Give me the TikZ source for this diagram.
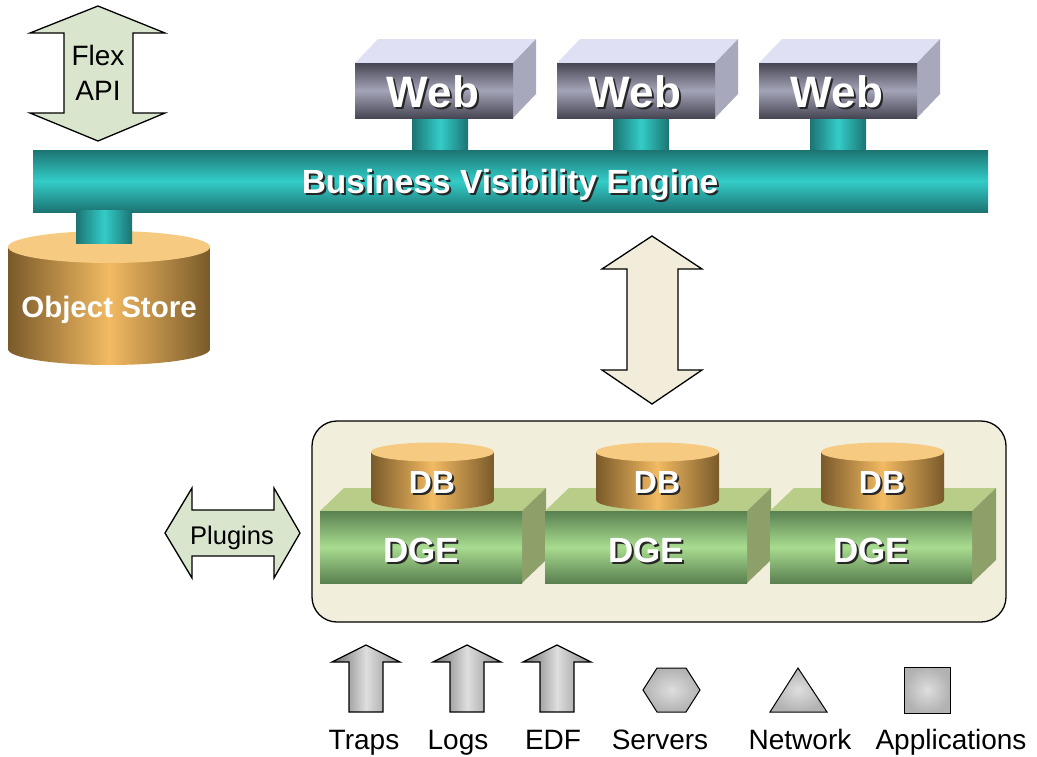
\documentclass[tikz,border=0pt]{standalone}
\usepackage{fontspec}
\setmainfont{Liberation Sans}
\usetikzlibrary{shapes.geometric}
\definecolor{cteal}{HTML}{33CCC8}
\definecolor{cteald}{HTML}{1C7472}
\definecolor{cgold}{HTML}{F2BA62}
\definecolor{cgoldd}{HTML}{7A5A2A}
\definecolor{cgoldt}{HTML}{F6CA80}
\definecolor{cwebf}{HTML}{A4A4B8}
\definecolor{cwebd}{HTML}{464654}
\definecolor{cwebt}{HTML}{E0E0F4}
\definecolor{cwebs}{HTML}{A8A8BC}
\definecolor{cdgef}{HTML}{A8DC90}
\definecolor{cdged}{HTML}{5A8050}
\definecolor{cdget}{HTML}{B8CE88}
\definecolor{cdges}{HTML}{8EA06A}
\definecolor{cmint}{HTML}{D9E5CD}
\definecolor{cbeige}{HTML}{F2EDDA}
\definecolor{cpanel}{HTML}{F2EEDC}
\definecolor{cgreyl}{HTML}{DEDEDE}
\definecolor{cgreym}{HTML}{B2B2B2}
\definecolor{cgreyd}{HTML}{6C6C6C}
\tikzset{
  every picture/.style={x=1pt, y=-1pt, line width=1.3pt},
  blockarrow/.style={draw=black, fill=#1, line join=miter},
  blockarrow/.default=cmint,
  tealbar/.style={top color=cteald, bottom color=cteald, middle color=cteal},
  tealpost/.style={left color=cteald, right color=cteald, middle color=cteal},
  goldside/.style={left color=cgoldd, right color=cgoldd, middle color=cgold},
  webfront/.style={top color=cwebd, bottom color=cwebd, middle color=cwebf},
  dgefront/.style={top color=cdged, bottom color=cdged, middle color=cdgef},
  greyarrow/.style={draw=black, line join=miter, left color=cgreyd, right color=cgreyd!80, middle color=cgreyl},
  greyshape/.style={draw=black, line width=1pt, inner color=cgreyl, outer color=cgreym},
  embossed/.style={anchor=base, text=white, font=\bfseries\fontsize{#1}{#1}\selectfont},
  embshadow/.style={anchor=base, text=black!85, font=\bfseries\fontsize{#1}{#1}\selectfont, xshift=2pt, yshift=-2pt},
  caption/.style={anchor=base, text=black, font=\fontsize{28}{34}\selectfont},
}
\begin{document}
\begin{tikzpicture}
  \useasboundingbox (0,0) rectangle (1037,756);
  % Flex API double arrow
  \draw[blockarrow] (98,6) -- (165,33) -- (133,33) -- (133,113) -- (165,113) -- (98,141)
    -- (30,113) -- (64,113) -- (64,33) -- (30,33) -- cycle;
  \node[caption, anchor=center, align=center, font=\fontsize{28}{35}\selectfont] (flexapi) at (98,73) {Flex\\API};
  % posts under the web servers, then the engine bar
  \foreach \p in {412,613,810}
    \shade[tealpost] (\p,116) rectangle (\p+56,152);
  \shade[tealbar] (33,150) rectangle (988,212);
  \node[embshadow=33.5] at (510,193) {Business Visibility Engine};
  \node[embossed=33.5] (bve) at (510,193) {Business Visibility Engine};
  % web servers
  \foreach \x [count=\i] in {355,557,759} {
    \fill[cwebt] (\x,63) -- (\x+23,39) -- (\x+181,39) -- (\x+158,63) -- cycle;
    \fill[cwebs] (\x+158,63) -- (\x+181,39) -- (\x+181,94) -- (\x+158,118) -- cycle;
    \shade[webfront] (\x,63) rectangle (\x+158,118);
    \node[embshadow=44] at (\x+78,107) {Web};
    \node[embossed=44] (web\i) at (\x+78,107) {Web};
  }
  % object store
  \shade[goldside] (8,247) -- (8,349) arc[start angle=180, end angle=0, x radius=101, y radius=16]
    -- (210,247) -- cycle;
  \fill[cgoldt] (109,247) ellipse[x radius=101, y radius=16];
  \shade[tealpost] (76,210) rectangle (132,243);
  \node[embossed=29.5] (objstore) at (109,317) {Object Store};
  % link between engine and collectors
  \draw[blockarrow=cbeige] (652,236) -- (702,269) -- (678,269) -- (678,370) -- (702,370) -- (652,404)
    -- (602,370) -- (627,370) -- (627,269) -- (602,269) -- cycle;
  % collector panel
  \draw[fill=cpanel, rounded corners=25pt] (312,421) rectangle (1006,622);
  \foreach \x [count=\i] in {320,545,770} {
    \fill[cdget] (\x,511) -- (\x+24,488) -- (\x+226,488) -- (\x+202,511) -- cycle;
    \fill[cdges] (\x+202,511) -- (\x+226,488) -- (\x+226,560) -- (\x+202,583) -- cycle;
    \shade[dgefront] (\x,511) rectangle (\x+202,583);
    \node[embshadow=35] at (\x+101,562) {DGE};
    \node[embossed=35] (dge\i) at (\x+101,562) {DGE};
    % database on top
    \shade[goldside] (\x+51,452) -- (\x+51,500) arc[start angle=180, end angle=0, x radius=61.5, y radius=10]
      -- (\x+174,452) -- cycle;
    \fill[cgoldt] (\x+112.5,452) ellipse[x radius=61.5, y radius=9.5];
    \node[embshadow=32] at (\x+112,493) {DB};
    \node[embossed=32] (db\i) at (\x+112,493) {DB};
  }
  % plugins double arrow
  \draw[blockarrow] (165,533) -- (192,488) -- (192,510) -- (274,510) -- (274,488) -- (300,533)
    -- (274,578) -- (274,556) -- (192,556) -- (192,578) -- cycle;
  \node[caption, font=\fontsize{25.5}{30}\selectfont] (plugins) at (232,544) {Plugins};
  % event sources
  \foreach \c in {366,467,557}
    \shadedraw[greyarrow] (\c,645) -- (\c+34,662) -- (\c+17,662) -- (\c+17,712) -- (\c-17,712)
      -- (\c-17,662) -- (\c-34,662) -- cycle;
  \shadedraw[greyshape] (643,690) -- (657,668) -- (686,668) -- (700,690) -- (686,712) -- (657,712) -- cycle;
  \shadedraw[greyshape] (770,712) -- (827,712) -- (798,668) -- cycle;
  \shadedraw[greyshape] (904,667) rectangle (950,713);
  \foreach \c/\n/\t in {364/traps/Traps, 458/logs/Logs, 553/edf/EDF, 660/servers/Servers,
                        800/network/Network, 951/apps/Applications}
    \node[caption] (\n) at (\c,749) {\t};
\end{tikzpicture}
\end{document}
